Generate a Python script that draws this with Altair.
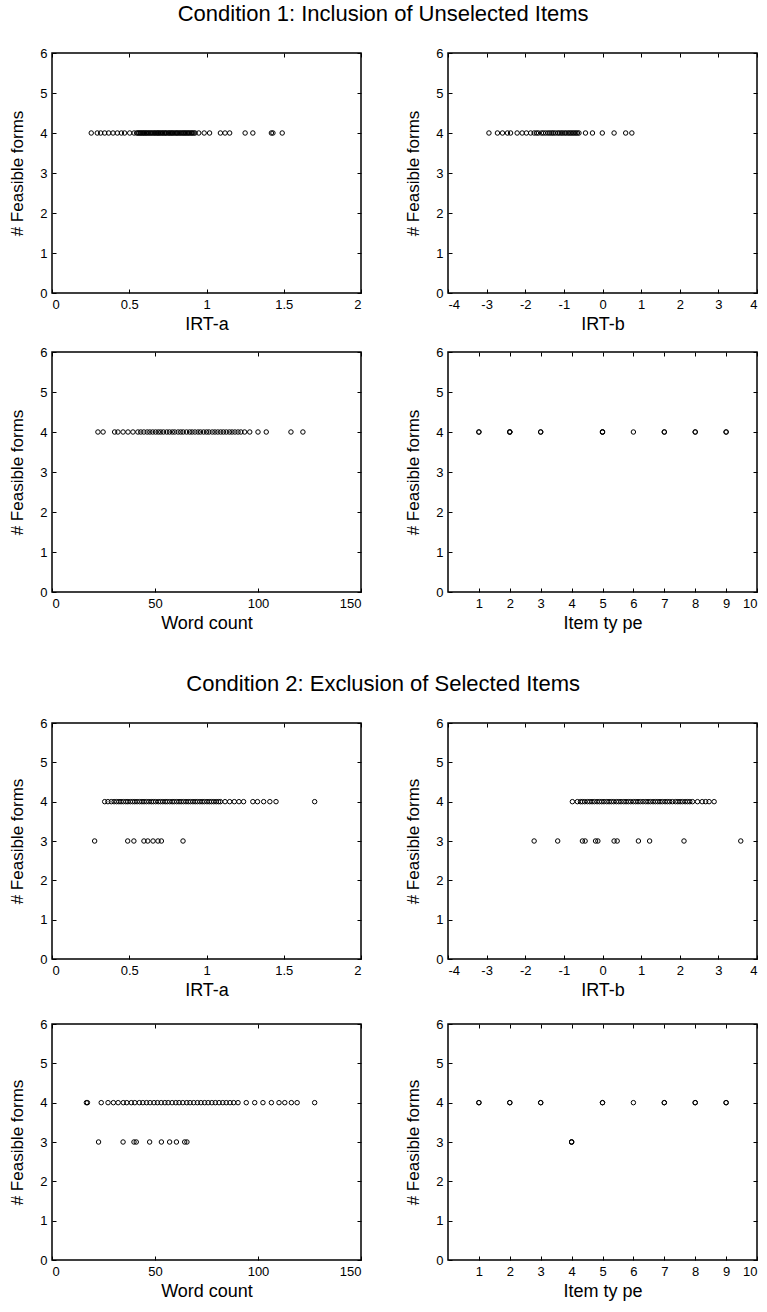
import altair as alt
import pandas as pd

FONT = "Liberation Sans"

# ---------------- data ----------------
FORMS_4 = 4
FORMS_3 = 3

# Condition 1 - all items reach 4 feasible forms
c1_irt_a = [0.254, 0.293, 0.315, 0.341, 0.367, 0.395, 0.423, 0.449, 0.470, 0.503, 0.531,
            0.548, 0.556, 0.563, 0.571, 0.577, 0.585, 0.592, 0.598, 0.607, 0.612, 0.621,
            0.628, 0.636, 0.644, 0.652, 0.661, 0.667, 0.676, 0.683, 0.689, 0.697, 0.704,
            0.713, 0.719, 0.728, 0.735, 0.741, 0.752, 0.758, 0.766, 0.774, 0.781, 0.789,
            0.798, 0.806, 0.812, 0.821, 0.829, 0.837, 0.846, 0.853, 0.861, 0.868, 0.877,
            0.884, 0.892, 0.901, 0.908, 0.917, 0.926, 0.95, 0.985, 1.02, 1.09, 1.12, 1.15,
            1.25, 1.30, 1.42, 1.43, 1.49]
c1_irt_b = [-2.94, -2.72, -2.59, -2.46, -2.38, -2.21, -2.08, -1.97, -1.86, -1.77, -1.71,
            -1.66, -1.58, -1.53, -1.47, -1.41, -1.36, -1.31, -1.27, -1.22, -1.16, -1.12,
            -1.07, -1.03, -0.98, -0.94, -0.89, -0.85, -0.81, -0.77, -0.73, -0.69, -0.65,
            -0.61, -0.44, -0.26, -0.005, 0.30, 0.60, 0.76]
c1_words = [22.3, 24.8, 30.4, 32.0, 34.5, 36.9, 39.3, 41.7, 43.1, 44.6, 46.2, 47.5, 48.9,
            50.3, 51.6, 52.8, 54.1, 55.7, 57.0, 58.4, 59.6, 61.2, 62.5, 63.7, 65.3, 66.8,
            68.0, 69.4, 70.9, 72.1, 73.6, 75.0, 76.2, 77.8, 79.1, 80.5, 81.9, 83.2, 84.6,
            86.1, 87.4, 88.8, 90.3, 91.7, 93.5, 96.0, 100.0, 104.0, 116.0, 121.8]
c1_type = [1, 1, 2, 2, 2, 3, 3, 5, 5, 5, 6, 7, 7, 8, 8, 9, 9]

# Condition 2 - items reaching 4 and 3 feasible forms
c2_irt_a_4 = [0.341, 0.362, 0.384, 0.402, 0.418, 0.433, 0.447, 0.462, 0.478, 0.491, 0.507,
              0.522, 0.536, 0.551, 0.567, 0.582, 0.596, 0.611, 0.627, 0.643, 0.656, 0.671,
              0.688, 0.702, 0.717, 0.733, 0.746, 0.762, 0.778, 0.791, 0.807, 0.822, 0.836,
              0.851, 0.867, 0.882, 0.896, 0.912, 0.927, 0.941, 0.957, 0.972, 0.986, 1.003,
              1.018, 1.032, 1.047, 1.063, 1.078, 1.09, 1.12, 1.15, 1.18, 1.21, 1.24, 1.30,
              1.33, 1.37, 1.41, 1.45, 1.70]
c2_irt_a_3 = [0.276, 0.49, 0.53, 0.595, 0.62, 0.654, 0.686, 0.708, 0.848]
c2_irt_b_4 = [-0.78, -0.65, -0.57, -0.52, -0.46, -0.39, -0.33, -0.27, -0.21, -0.14, -0.08,
              -0.02, 0.04, 0.11, 0.17, 0.23, 0.29, 0.36, 0.42, 0.48, 0.55, 0.61, 0.67,
              0.73, 0.80, 0.86, 0.92, 0.98, 1.05, 1.12, 1.18, 1.24, 1.31, 1.37, 1.43, 1.49,
              1.55, 1.62, 1.68, 1.74, 1.81, 1.89, 1.95, 2.01, 2.07, 2.14, 2.20, 2.26, 2.33,
              2.46, 2.58, 2.67, 2.76, 2.89]
c2_irt_b_3 = [-1.77, -1.16, -0.52, -0.45, -0.18, -0.12, 0.30, 0.38, 0.93, 1.22, 2.11, 3.58]
c2_words_4 = [16.7, 17.2, 23.9, 27.2, 29.8, 32.1, 34.6, 36.3, 38.5, 40.2, 42.4, 44.1, 45.9,
              47.6, 49.5, 51.2, 53.0, 54.8, 56.4, 58.3, 60.1, 61.7, 63.5, 65.4, 67.0, 68.8,
              70.6, 72.3, 74.1, 75.8, 77.6, 79.3, 81.1, 82.9, 84.6, 86.4, 88.2, 90.3, 94.3,
              98.4, 102.4, 106.5, 110.2, 113.0, 116.2, 119.0, 127.5]
c2_words_3 = [22.6, 34.5, 39.8, 40.9, 47.4, 53.1, 57.1, 60.4, 64.4, 65.5]
c2_type_4 = [1, 1, 2, 2, 3, 3, 5, 5, 6, 7, 7, 8, 8, 9, 9]
c2_type_3 = [4, 4, 4]

# axis ticks
IRT_A_TICKS = [0, 0.5, 1, 1.5, 2]
IRT_B_TICKS = [-4, -3, -2, -1, 0, 1, 2, 3, 4]
WORD_TICKS = [0, 50, 100, 150]
TYPE_TICKS = [1, 2, 3, 4, 5, 6, 7, 8, 9, 10]
Y_TICKS = [0, 1, 2, 3, 4, 5, 6]

W = 309


def frame(rows):
    xs, ys = [], []
    for vals, forms in rows:
        xs += list(vals)
        ys += [forms] * len(vals)
    return pd.DataFrame({"x": xs, "y": ys})


def panel(rows, xdomain, xticks, xtitle, h):
    df = frame(rows)
    xs = alt.Scale(domain=xdomain, nice=False, zero=False)
    ys = alt.Scale(domain=[0, 6], nice=False, zero=False)
    common = dict(domain=False, offset=-4, tickSize=4, tickWidth=1,
                  labelPadding=5, labelExpr="'' + datum.value")
    pts = alt.Chart(df).mark_point(shape="circle", filled=False, color="black",
                                   size=20, strokeWidth=1.0, opacity=1).encode(
        x=alt.X("x:Q", scale=xs,
                axis=alt.Axis(values=xticks, title=xtitle, orient="bottom",
                              titlePadding=4, titleFontSize=18, **common)),
        y=alt.Y("y:Q", scale=ys,
                axis=alt.Axis(values=Y_TICKS, title="# Feasible forms", orient="left",
                              titlePadding=13, titleFontSize=17, **common)),
    )
    mirror = alt.Chart(df).mark_point(opacity=0).encode(
        x=alt.X("x:Q", scale=xs,
                axis=alt.Axis(values=xticks, title=None, orient="top", labels=False,
                              domain=False, offset=-4, tickSize=4, tickWidth=1)),
        y=alt.Y("y:Q", scale=ys,
                axis=alt.Axis(values=Y_TICKS, title=None, orient="right", labels=False,
                              domain=False, offset=-4, tickSize=4, tickWidth=1)),
    )
    return alt.layer(pts, mirror).resolve_axis(x="independent", y="independent").properties(
        width=W, height=h)


H1 = 240
H2 = 236
HSPACE = 41

c1 = alt.vconcat(
    alt.hconcat(
        panel([(c1_irt_a, FORMS_4)], [0, 2], IRT_A_TICKS, "IRT-a", H1),
        panel([(c1_irt_b, FORMS_4)], [-4, 4], IRT_B_TICKS, "IRT-b", H1),
        spacing=HSPACE),
    alt.hconcat(
        panel([(c1_words, FORMS_4)], [0, 150], WORD_TICKS, "Word count", H1),
        panel([(c1_type, FORMS_4)], [0, 10], TYPE_TICKS, "Item ty pe", H1),
        spacing=HSPACE),
    spacing=11,
).properties(title=alt.TitleParams("Condition 1: Inclusion of Unselected Items", offset=20))

c2 = alt.vconcat(
    alt.hconcat(
        panel([(c2_irt_a_4, FORMS_4), (c2_irt_a_3, FORMS_3)], [0, 2], IRT_A_TICKS, "IRT-a", H2),
        panel([(c2_irt_b_4, FORMS_4), (c2_irt_b_3, FORMS_3)], [-4, 4], IRT_B_TICKS, "IRT-b", H2),
        spacing=HSPACE),
    alt.hconcat(
        panel([(c2_words_4, FORMS_4), (c2_words_3, FORMS_3)], [0, 150], WORD_TICKS, "Word count", H2),
        panel([(c2_type_4, FORMS_4), (c2_type_3, FORMS_3)], [0, 10], TYPE_TICKS, "Item ty pe", H2),
        spacing=HSPACE),
    spacing=17,
).properties(title=alt.TitleParams("Condition 2: Exclusion of Selected Items", offset=20))

chart = alt.vconcat(c1, c2, spacing=40).properties(
    padding={"left": 8, "top": 3, "right": 4, "bottom": 4},
    background="white",
).configure_view(
    stroke="black", strokeWidth=1.5
).configure_axis(
    labelFont=FONT, titleFont=FONT, labelFontSize=13, titleFontSize=17,
    titleFontWeight="normal", labelColor="black", titleColor="black",
    tickColor="black", grid=False,
).configure_title(
    font=FONT, fontSize=22, fontWeight="normal", color="black", anchor="middle"
).configure_concat(spacing=20)

chart.save("out.html", embed_options={"renderer": "svg", "actions": False})
